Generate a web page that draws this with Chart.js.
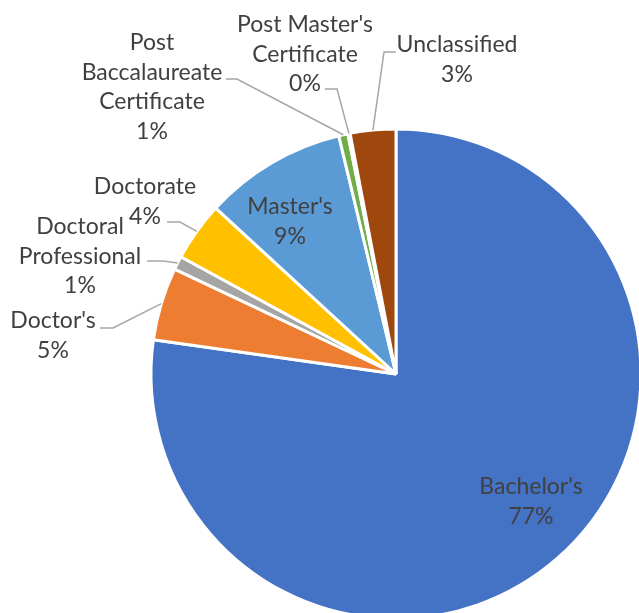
<!DOCTYPE html>
<html>
<head>
<meta charset="utf-8">
<script src="https://cdn.jsdelivr.net/npm/chart.js@4/dist/chart.umd.min.js"></script>
<style>
  html, body { margin: 0; padding: 0; background: #fff; overflow: hidden; }
  #wrap { width: 639px; height: 613px; overflow: hidden; position: relative; }
  #inner { position: absolute; left: 0; top: 0; width: 660px; height: 660px; }
</style>
</head>
<body>
<div id="wrap"><div id="inner"><canvas id="c" width="660" height="660"></canvas></div></div>
<script>
// ---- data ----
const categories = ["Bachelor's", "Doctor's", "Doctoral Professional", "Doctorate", "Master's",
  "Post Baccalaureate Certificate", "Post Master's Certificate", "Unclassified"];
const shares = [77.2, 4.8, 0.9, 3.9, 9.4, 0.6, 0.15, 3.0];
const labelLines = [
  ["Bachelor's"],
  ["Doctor's"],
  ["Doctoral", "Professional"],
  ["Doctorate"],
  ["Master's"],
  ["Post", "Baccalaureate", "Certificate"],
  ["Post Master's", "Certificate"],
  ["Unclassified"]
];

// ---- styling / layout ----
const colors = ["#4472C4", "#ED7D31", "#A5A5A5", "#FFC000", "#5B9BD5", "#70AD47", "#264478", "#9E480E"];
// label placement relative to pie centre: cx = text centre x, y0 = first line y,
// leader: start point and elbow point (leader ends on the slice edge)
const labelLayout = [
  { cx: 135, y0: 113 },
  { cx: -343, y0: -53, s: [-296, -46], e: [-283, -46] },
  { cx: -316, y0: -147, s: [-249, -113], e: [-233, -113] },
  { cx: -251, y0: -187, s: [-229, -152], e: [-216, -152] },
  { cx: -106, y0: -167 },
  { cx: -244, y0: -331, s: [-170, -295], e: [-159, -295] },
  { cx: -91, y0: -349, s: [-71, -285], e: [-59, -285] },
  { cx: 61, y0: -329, s: [0, -322], e: [-12, -322] }
];
const FONT = '23px Lato, "Noto Sans", sans-serif';
const LINE_H = 29.5;

const labelPlugin = {
  id: 'excelLabels',
  afterDatasetsDraw(chart) {
    const ctx = chart.ctx;
    const meta = chart.getDatasetMeta(0);
    const data = chart.data.datasets[0].data;
    const total = data.reduce((a, b) => a + b, 0);
    ctx.save();
    meta.data.forEach((arc, i) => {
      const L = labelLayout[i];
      const cx = arc.x, cy = arc.y;
      if (L.s) {
        const mid = (arc.startAngle + arc.endAngle) / 2;
        const ex = cx + arc.outerRadius * Math.cos(mid);
        const ey = cy + arc.outerRadius * Math.sin(mid);
        ctx.beginPath();
        ctx.strokeStyle = '#A6A6A6';
        ctx.lineWidth = 1.5;
        ctx.moveTo(cx + L.s[0], cy + L.s[1]);
        ctx.lineTo(cx + L.e[0], cy + L.e[1]);
        ctx.lineTo(ex, ey);
        ctx.stroke();
      }
      const lines = labelLines[i].concat([Math.round(data[i] / total * 100) + '%']);
      ctx.font = FONT;
      ctx.fillStyle = '#404040';
      ctx.textAlign = 'center';
      ctx.textBaseline = 'middle';
      lines.forEach((t, k) => ctx.fillText(t, cx + L.cx, cy + L.y0 + k * LINE_H));
    });
    ctx.restore();
  }
};

new Chart(document.getElementById('c'), {
  type: 'pie',
  data: {
    labels: categories,
    datasets: [{
      data: shares,
      backgroundColor: colors,
      borderColor: '#FFFFFF',
      borderWidth: 3
    }]
  },
  options: {
    responsive: false,
    animation: false,
    radius: 245,
    layout: { padding: { left: 151, right: 19, top: 129, bottom: 41 } },
    plugins: { legend: { display: false }, tooltip: { enabled: false } }
  },
  plugins: [labelPlugin]
});
</script>
</body>
</html>
